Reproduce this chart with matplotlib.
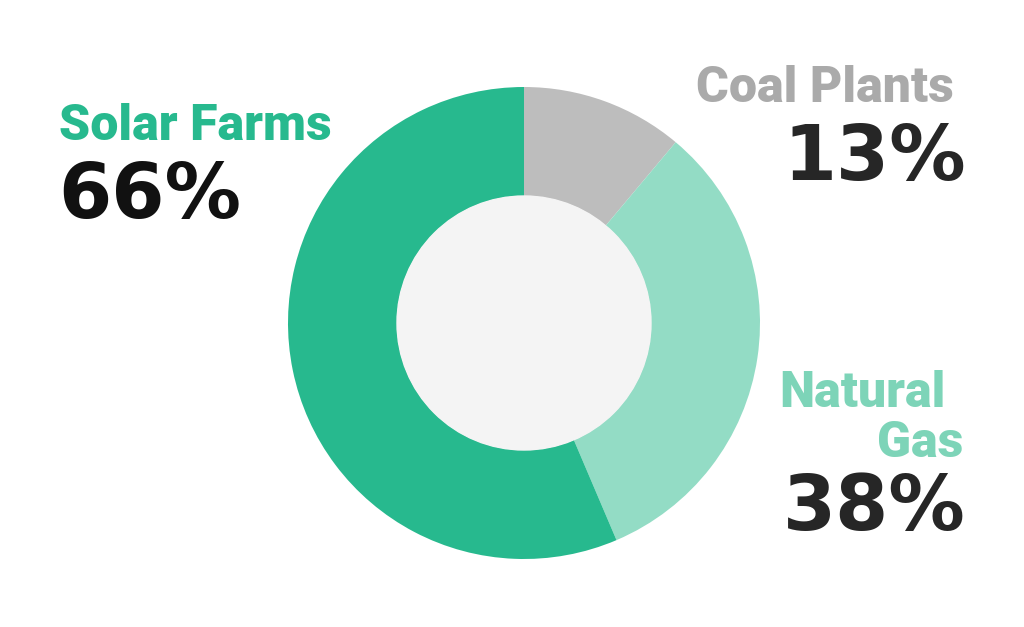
import matplotlib.pyplot as plt
from matplotlib.patches import Circle

# Data
labels = ['Coal Plants', 'Natural Gas', 'Solar Farms']
values = [13, 38, 66]
colors = ['#bdbdbd', '#93dcc5', '#27b98e']
label_colors = ['#aaaaaa', '#7dd4b8', '#27b98e']

W, H = 1024, 627
fig = plt.figure(figsize=(W / 100, H / 100), dpi=100)
ax = fig.add_axes([0, 0, 1, 1])

cx, cy = 524, H - 323
r_out, r_in = 236, 127

ax.pie(values, colors=colors, startangle=90, counterclock=False,
       center=(cx, cy), radius=r_out,
       wedgeprops=dict(width=r_out - r_in, linewidth=0))
ax.add_patch(Circle((cx, cy), r_in, color='#f4f4f4', zorder=5))

ax.set_xlim(0, W)
ax.set_ylim(0, H)
ax.set_aspect('equal')
ax.axis('off')

lab_kw = dict(family=['Roboto', 'DejaVu Sans'], fontweight='black', fontsize=36)
pct_kw = dict(family=['DejaVu Sans'], fontweight='bold', fontsize=55)

# Solar Farms (left)
ax.text(59, H - 140, labels[2], color=label_colors[2], ha='left', va='baseline', **lab_kw)
ax.text(58, H - 218, f'{values[2]}%', color='#111111', ha='left', va='baseline', **pct_kw)

# Coal Plants (top right)
ax.text(954, H - 102, labels[0], color=label_colors[0], ha='right', va='baseline', **lab_kw)
ax.text(966, H - 180, f'{values[0]}%', color='#262626', ha='right', va='baseline', **pct_kw)

# Natural Gas (bottom right)
ax.text(946, H - 407, 'Natural', color=label_colors[1], ha='right', va='baseline', **lab_kw)
ax.text(963, H - 457, 'Gas', color=label_colors[1], ha='right', va='baseline', **lab_kw)
ax.text(966, H - 530, f'{values[1]}%', color='#262626', ha='right', va='baseline', **pct_kw)

fig.savefig('out.png', dpi=100, facecolor='white')
